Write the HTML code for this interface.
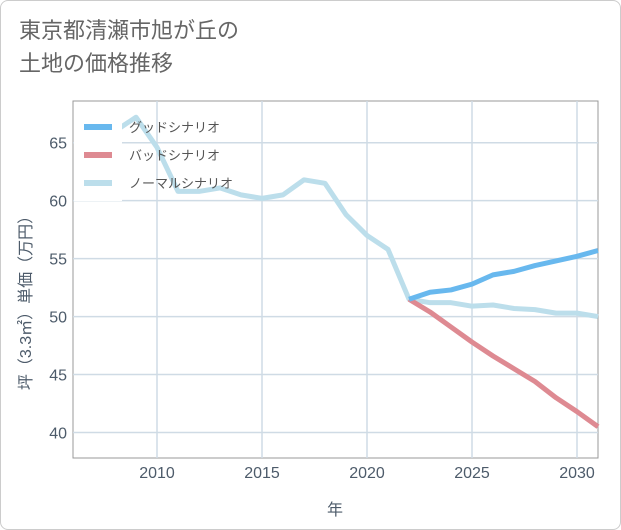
<!DOCTYPE html>
<html><head><meta charset="utf-8"><style>
body{margin:0;background:#fff;font-family:"Liberation Sans","Noto Sans CJK JP",sans-serif}
#wrap{position:relative;width:619px;height:528px;border:1px solid #ccc;border-radius:8px;overflow:hidden;background:#fff}
#title{position:absolute;left:18px;top:13px;font-size:22px;line-height:33px;color:#666}
</style></head><body>
<div id="wrap">
<div id="title">東京都清瀬市旭が丘の<br>土地の価格推移</div>
<svg id="chart" width="621" height="530" style="position:absolute;left:0;top:0"></svg>
</div>
<script>
const years=[2008,2009,2010,2011,2012,2013,2014,2015,2016,2017,2018,2019,2020,2021,2022,2023,2024,2025,2026,2027,2028,2029,2030,2031];
const normal=[66.0,67.2,64.6,60.8,60.8,61.1,60.5,60.2,60.5,61.8,61.5,58.8,57.0,55.8,51.5,51.2,51.2,50.9,51.0,50.7,50.6,50.3,50.3,50.0];
const goodYears=[2022,2023,2024,2025,2026,2027,2028,2029,2030,2031];
const good=[51.5,52.1,52.3,52.8,53.6,53.9,54.4,54.8,55.2,55.7];
const bad=[51.5,50.4,49.1,47.8,46.6,45.5,44.4,43.0,41.8,40.5];
const xTicks=[2010,2015,2020,2025,2030];
const yTicks=[40,45,50,55,60,65];
const X0=72,X1=597,Y0=100,Y1=457;
const x=v=>X0+(v-2006)*(X1-X0)/25;
const y=v=>Y1-(v-37.8)*(Y1-Y0)/(68.6-37.8);
const svg=document.getElementById('chart');
const NS='http://www.w3.org/2000/svg';
function mk(t,a,p){const e=document.createElementNS(NS,t);for(const k in a)e.setAttribute(k,a[k]);(p||svg).appendChild(e);return e;}
const r=mk('rect',{x:X0,y:Y0,width:X1-X0,height:Y1-Y0,fill:'none',stroke:'#999','stroke-width':1});


xTicks.forEach(t=>{
 const l=mk('line',{x1:x(t),x2:x(t),y1:Y0,y2:Y1,stroke:'#cfdbe5','stroke-width':1.5});
 
 
 const tx=mk('text',{x:x(t),y:477,'text-anchor':'middle','font-size':16,fill:'#4d5b6a'});
 tx.textContent=t;
 
 
});
yTicks.forEach(t=>{
 const l=mk('line',{x1:X0,x2:X1,y1:y(t),y2:y(t),stroke:'#cfdbe5','stroke-width':1.5});
 
 
 const tx=mk('text',{x:66,y:y(t)+6,'text-anchor':'end','font-size':16,fill:'#4d5b6a'});
 tx.textContent=t;
 
 
});
const xt=mk('text',{x:334,y:514,'text-anchor':'middle','font-size':16,fill:'#4d5b6a'});
xt.textContent='年';


const yt=mk('text',{x:0,y:0,'text-anchor':'middle','font-size':16,fill:'#4d5b6a',transform:'translate(30,298) rotate(-90)'});
yt.textContent='坪（3.3㎡）単価（万円）';


function line(xs,ys,color,name){
 const p=mk('polyline',{points:xs.map((v,i)=>x(v)+','+y(ys[i])).join(' '),fill:'none',stroke:color,'stroke-width':5,'stroke-linejoin':'round'});
 
 
}
line(years,normal,'#bcdeeb','normal-scenario-line');
line(goodYears,bad,'#de8a92','bad-scenario-line');
line(goodYears,good,'#68b8ee','good-scenario-line');
const lb=mk('rect',{x:73,y:108,width:48,height:92,fill:'#fff'});


[['グッドシナリオ','#68b8ee',126],['バッドシナリオ','#de8a92',154],['ノーマルシナリオ','#bcdeeb',182]].forEach(([t,c,yy])=>{
 const g=mk('g',{});
 
 
 mk('line',{x1:83,x2:111,y1:yy,y2:yy,stroke:c,'stroke-width':6},g);
 const tx=mk('text',{x:128,y:yy+5,'font-size':13,fill:'#555'},g);
 tx.textContent=t;
});
</script>
</body></html>
